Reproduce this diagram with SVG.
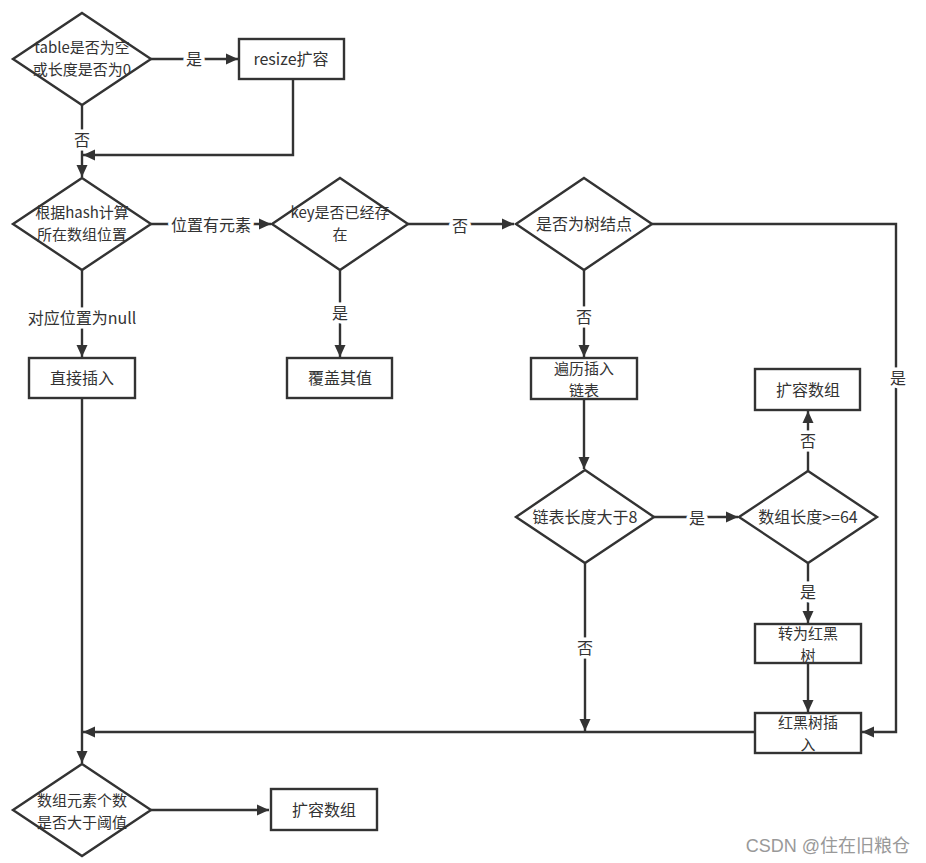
<svg xmlns="http://www.w3.org/2000/svg" width="926" height="863" viewBox="0 0 926 863">
<style>
.shape{fill:#fff;stroke:#333;stroke-width:2.4}
.t{font-family:"Noto Sans CJK SC","Liberation Sans",sans-serif;font-size:16px;fill:#333;text-anchor:middle}
.m{font-size:15px}
.c{fill:none;stroke:#333;stroke-width:2.4}
.lbl{font-family:"Noto Sans CJK SC","Liberation Sans",sans-serif;font-size:16px;fill:#333;text-anchor:middle;stroke:#fff;stroke-width:7px;paint-order:stroke;stroke-linejoin:round}
.wm{font-family:"Liberation Sans","Noto Sans CJK SC",sans-serif;font-size:18px;fill:#999;text-anchor:end}
</style>
<defs>
<marker id="arr" markerUnits="userSpaceOnUse" markerWidth="14" markerHeight="14" refX="12" refY="7" orient="auto">
<path d="M0,1.5 L12,7 L0,12.5 z" fill="#333"/>
</marker>
</defs>
<rect width="926" height="863" fill="#fff"/>

<g id="connectors">
<path class="c" d="M151,59 H238" marker-end="url(#arr)"/>
<path class="c" d="M293,79 V155 H83" marker-end="url(#arr)"/>
<path class="c" d="M82,105 V177" marker-end="url(#arr)"/>
<path class="c" d="M151,224 H271" marker-end="url(#arr)"/>
<path class="c" d="M408,224 H514" marker-end="url(#arr)"/>
<path class="c" d="M652,224 H896 V732 H862" marker-end="url(#arr)"/>
<path class="c" d="M82,270 V357" marker-end="url(#arr)"/>
<path class="c" d="M340,270 V357" marker-end="url(#arr)"/>
<path class="c" d="M584,270 V357" marker-end="url(#arr)"/>
<path class="c" d="M584,399 V469" marker-end="url(#arr)"/>
<path class="c" d="M654,517 H738" marker-end="url(#arr)"/>
<path class="c" d="M808,471 V411" marker-end="url(#arr)"/>
<path class="c" d="M808,563 V623" marker-end="url(#arr)"/>
<path class="c" d="M808,663 V712" marker-end="url(#arr)"/>
<path class="c" d="M585,563 V731" marker-end="url(#arr)"/>
<path class="c" d="M755,732 H83" marker-end="url(#arr)"/>
<path class="c" d="M82,398 V763" marker-end="url(#arr)"/>
<path class="c" d="M151,810 H269" marker-end="url(#arr)"/>
<text class="lbl" x="194" y="65">是</text>
<text class="lbl" x="82" y="146">否</text>
<text class="lbl" x="211" y="231">位置有元素</text>
<text class="lbl" x="460" y="232">否</text>
<text class="lbl" x="898" y="384">是</text>
<text class="lbl" x="82" y="324">对应位置为null</text>
<text class="lbl" x="340" y="319">是</text>
<text class="lbl" x="584" y="323">否</text>
<text class="lbl" x="697" y="524">是</text>
<text class="lbl" x="808" y="447">否</text>
<text class="lbl" x="808" y="598">是</text>
<text class="lbl" x="585" y="654">否</text>
</g>

<g id="n-table-empty">
<polygon class="shape" points="82,13 151,59 82,105 13,59"/>
<text class="t m" x="82" y="53">table是否为空</text>
<text class="t m" x="82" y="75">或长度是否为0</text>
</g>
<g id="n-resize">
<rect class="shape" x="239" y="39" width="105" height="40"/>
<text class="t" x="291" y="65">resize扩容</text>
</g>
<g id="n-hash">
<polygon class="shape" points="82,178 151,224 82,270 13,224"/>
<text class="t m" x="82" y="218">根据hash计算</text>
<text class="t m" x="82" y="240">所在数组位置</text>
</g>
<g id="n-key-exists">
<polygon class="shape" points="340,178 408,224 340,270 272,224"/>
<text class="t m" x="340" y="218">key是否已经存</text>
<text class="t m" x="340" y="240">在</text>
</g>
<g id="n-tree-node">
<polygon class="shape" points="584,178 652,224 584,270 516,224"/>
<text class="t" x="584" y="230">是否为树结点</text>
</g>
<g id="n-direct-insert">
<rect class="shape" x="29" y="358" width="106" height="40"/>
<text class="t" x="82" y="384">直接插入</text>
</g>
<g id="n-overwrite">
<rect class="shape" x="287" y="358" width="105" height="40"/>
<text class="t" x="340" y="384">覆盖其值</text>
</g>
<g id="n-traverse">
<rect class="shape" x="531" y="358" width="106" height="41"/>
<text class="t m" x="584" y="374">遍历插入</text>
<text class="t m" x="584" y="396">链表</text>
</g>
<g id="n-expand-top">
<rect class="shape" x="755" y="369" width="105" height="41"/>
<text class="t" x="808" y="396">扩容数组</text>
</g>
<g id="n-list-len">
<polygon class="shape" points="585,470 654,517 585,563 516,517"/>
<text class="t" x="585" y="523">链表长度大于8</text>
</g>
<g id="n-array-len">
<polygon class="shape" points="808,471 877,517 808,563 739,517"/>
<text class="t" x="808" y="523">数组长度&gt;=64</text>
</g>
<g id="n-to-rbtree">
<rect class="shape" x="755" y="624" width="106" height="39"/>
<text class="t m" x="808" y="639">转为红黑</text>
<text class="t m" x="808" y="661">树</text>
</g>
<g id="n-rbtree-insert">
<rect class="shape" x="755" y="713" width="106" height="40"/>
<text class="t m" x="808" y="728">红黑树插</text>
<text class="t m" x="808" y="750">入</text>
</g>
<g id="n-threshold">
<polygon class="shape" points="82,764 151,810 82,856 13,810"/>
<text class="t m" x="82" y="806">数组元素个数</text>
<text class="t m" x="82" y="828">是否大于阈值</text>
</g>
<g id="n-expand-bottom">
<rect class="shape" x="271" y="789" width="106" height="41"/>
<text class="t" x="324" y="816">扩容数组</text>
</g>

<text class="wm" x="910" y="852">CSDN @住在旧粮仓</text>
</svg>
